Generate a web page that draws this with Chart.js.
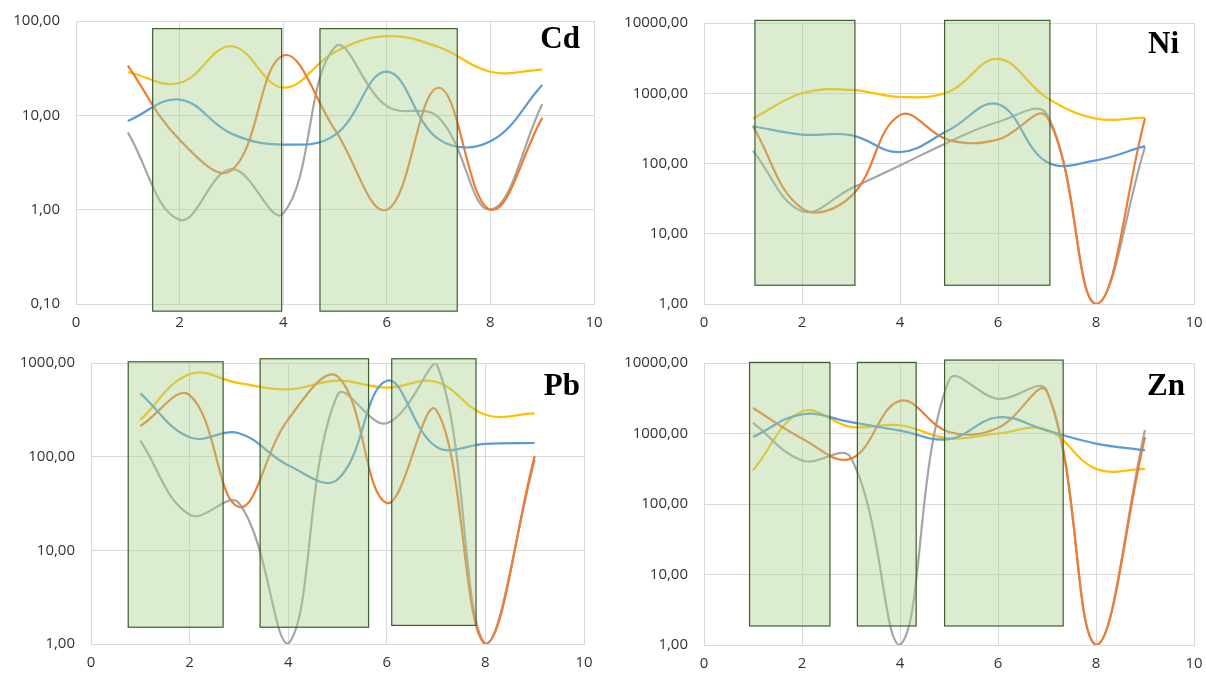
<!DOCTYPE html>
<html>
<head>
<meta charset="utf-8">
<script src="https://cdn.jsdelivr.net/npm/chart.js@4"></script>
<style>
  body { margin: 0; background: #fff; width: 1206px; height: 675px; position: relative; overflow: hidden; }
  canvas { position: absolute; }
</style>
</head>
<body>
<canvas id="cd" width="603" height="338" style="left:0;top:0"></canvas>
<canvas id="ni" width="603" height="338" style="left:603px;top:0"></canvas>
<canvas id="pb" width="603" height="337" style="left:0;top:338px"></canvas>
<canvas id="zn" width="603" height="337" style="left:603px;top:338px"></canvas>
<script>
// sampling points 1..9
const xs = [1, 2, 3, 4, 5, 6, 7, 8, 9];
const xTicks = [0, 2, 4, 6, 8, 10];

// Cd
const cdBlue   = [8.7, 14.7, 6.4, 4.9, 6.2, 29, 5.6, 5.3, 21];
const cdOrange = [33.6, 5.5, 2.6, 43, 7, 1.0, 19.6, 1.0, 9.4];
const cdGray   = [6.6, 0.78, 2.7, 0.91, 53, 12.5, 9.5, 1.0, 13.1];
const cdYellow = [28.8, 22, 54, 19.7, 47, 69, 53, 29, 30.5];
const cdTicks  = [0.1, 1, 10, 100];
const cdBoxes  = [[1.48, 3.97, 0.084, 83], [4.71, 7.36, 0.084, 83]];

// Ni
const niBlue   = [339, 258, 253, 145, 300, 700, 105, 111, 178];
const niOrange = [339, 23, 34, 488, 215, 219, 460, 1, 436];
const niGray   = [151, 21, 44, 94, 203, 390, 500, 1, 172];
const niYellow = [436, 1000, 1120, 885, 1050, 3080, 860, 436, 450];
const niTicks  = [1, 10, 100, 1000, 10000];
const niBoxes  = [[1.04, 3.08, 1.85, 10900], [4.91, 7.06, 1.85, 10900]];

// Pb
const pbBlue   = [474, 161, 178, 81, 57, 647, 128, 137, 140];
const pbOrange = [212, 455, 29, 250, 720, 32, 316, 1, 102];
const pbGray   = [148, 24, 32, 1, 455, 227, 1000, 1, 92];
const pbYellow = [247, 760, 610, 524, 647, 545, 630, 280, 290];
const pbTicks  = [1, 10, 100, 1000];
const pbBoxes  = [[0.755, 2.68, 1.51, 1030], [3.43, 5.63, 1.51, 1110], [6.1, 7.81, 1.58, 1110]];

// Zn
const znBlue   = [890, 1870, 1450, 1100, 830, 1700, 1100, 720, 580];
const znOrange = [2300, 850, 440, 2900, 1050, 1200, 3900, 1, 890];
const znGray   = [1420, 415, 450, 1, 5700, 3100, 4000, 1, 1120];
const znYellow = [300, 2050, 1240, 1310, 850, 1000, 1130, 315, 315];
const znTicks  = [1, 10, 100, 1000, 10000];
const znBoxes  = [[0.93, 2.57, 1.86, 10200], [3.13, 4.33, 1.86, 10200], [4.91, 7.33, 1.86, 11000]];

const colors = ['#5B9BD5', '#ED7D31', '#A5A5A5', '#FFC000'];
const tickFont = { family: '"Open Sans", sans-serif', size: 15 };

function makeChart(id, p) {
  // green boxes drawn over the lines, plus the element name
  const overlay = {
    id: 'overlay',
    afterDatasetsDraw(chart) {
      const { ctx, chartArea } = chart;
      const x = chart.scales.x, y = chart.scales.y;
      ctx.save();
      p.boxes.forEach(b => {
        const x1 = x.getPixelForValue(b[0]), x2 = x.getPixelForValue(b[1]);
        const y1 = y.getPixelForValue(b[3]), y2 = y.getPixelForValue(b[2]);
        ctx.fillStyle = 'rgba(169,209,142,0.42)';
        ctx.fillRect(x1, y1, x2 - x1, y2 - y1);
        ctx.strokeStyle = '#3e5e2e';
        ctx.lineWidth = 1.2;
        ctx.strokeRect(x1, y1, x2 - x1, y2 - y1);
      });
      ctx.font = 'bold 31px "Liberation Serif", serif';
      ctx.fillStyle = '#000';
      ctx.textAlign = 'right';
      ctx.textBaseline = 'middle';
      ctx.fillText(p.label, chartArea.right - p.dx, chartArea.top + p.dy);
      ctx.restore();
    }
  };

  const datasets = p.series.map((s, i) => ({
    data: xs.map((v, j) => ({ x: v, y: s[j] })),
    borderColor: colors[i],
    borderWidth: 2.2,
    pointRadius: 0,
    showLine: true,
    tension: 0.4,
    fill: false
  }));

  return new Chart(document.getElementById(id), {
    type: 'scatter',
    data: { datasets },
    plugins: [overlay],
    options: {
      responsive: false,
      animation: false,
      layout: { padding: { top: p.top, right: p.right, left: 0, bottom: 0 } },
      plugins: { legend: { display: false }, tooltip: { enabled: false } },
      scales: {
        x: {
          type: 'linear', min: 0, max: 10,
          afterBuildTicks: s => { s.ticks = xTicks.map(v => ({ value: v })); },
          afterFit: s => { s.height = p.xh; s.paddingLeft = 0; s.paddingRight = 0; },
          grid: { color: '#d9d9d9', drawTicks: false },
          border: { color: '#d9d9d9' },
          ticks: { padding: 10, color: '#333', font: tickFont }
        },
        y: {
          type: 'logarithmic', min: p.ticks[0], max: p.ticks[p.ticks.length - 1],
          afterBuildTicks: s => { s.ticks = p.ticks.map(v => ({ value: v })); },
          afterFit: s => { s.width = p.yw; s.paddingTop = 0; s.paddingBottom = 0; },
          grid: { color: '#d9d9d9', drawTicks: false },
          border: { color: '#d9d9d9' },
          ticks: {
            padding: 16, color: '#333', font: tickFont,
            callback: v => Number(v).toFixed(2).replace('.', ',')
          }
        }
      }
    }
  });
}

makeChart('cd', { series: [cdBlue, cdOrange, cdGray, cdYellow], ticks: cdTicks, boxes: cdBoxes,
  label: 'Cd', dx: 14, dy: 19, top: 21, right: 9, yw: 76, xh: 34 });
makeChart('ni', { series: [niBlue, niOrange, niGray, niYellow], ticks: niTicks, boxes: niBoxes,
  label: 'Ni', dx: 15, dy: 22, top: 23, right: 12, yw: 101, xh: 34 });
makeChart('pb', { series: [pbBlue, pbOrange, pbGray, pbYellow], ticks: pbTicks, boxes: pbBoxes,
  label: 'Pb', dx: 4, dy: 24, top: 25, right: 19, yw: 91, xh: 31 });
makeChart('zn', { series: [znBlue, znOrange, znGray, znYellow], ticks: znTicks, boxes: znBoxes,
  label: 'Zn', dx: 9, dy: 24, top: 25, right: 12, yw: 101, xh: 30 });
</script>
</body>
</html>
